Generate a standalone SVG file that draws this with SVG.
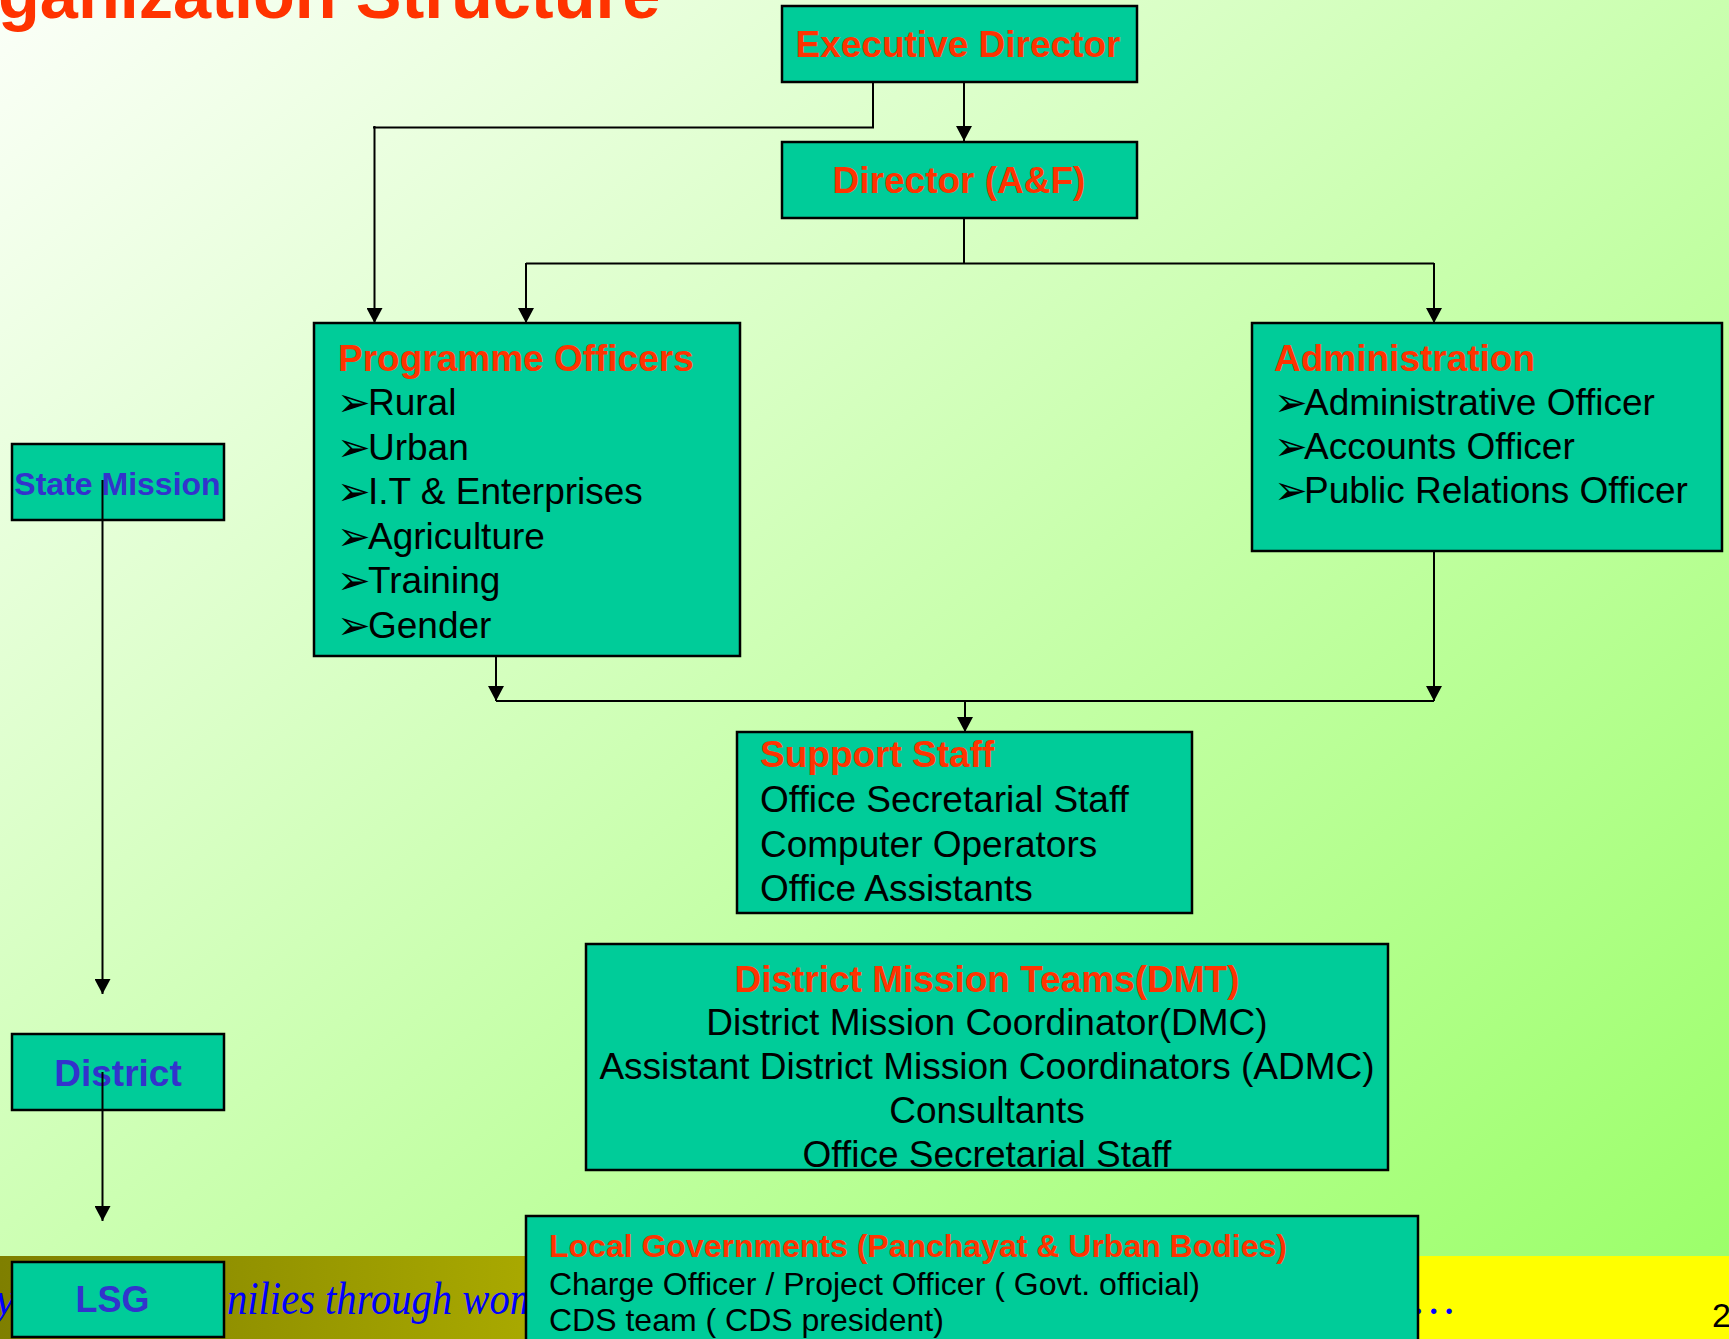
<svg xmlns="http://www.w3.org/2000/svg" width="1729" height="1339" viewBox="0 0 1729 1339">
<defs>
<linearGradient id="bg" x1="0" y1="0" x2="1" y2="1">
<stop offset="0" stop-color="#FBFFF8"/>
<stop offset="1" stop-color="#99FF66"/>
</linearGradient>
<linearGradient id="band" x1="0" y1="0" x2="1" y2="0">
<stop offset="0" stop-color="#7F7F00"/>
<stop offset="0.3" stop-color="#A8A800"/>
<stop offset="0.8" stop-color="#FFFF00"/>
<stop offset="1" stop-color="#FFFF00"/>
</linearGradient>
<marker id="ah" markerUnits="userSpaceOnUse" markerWidth="16" markerHeight="16" refX="15" refY="8" orient="auto" viewBox="0 0 16 16">
<path d="M0,0 L15,8 L0,16 Z" fill="#000"/>
</marker>
</defs>
<style>
.box{fill:#00CC99;stroke:#000;stroke-width:2.5}
.hd{font-family:"Liberation Sans",Arial,sans-serif;font-weight:bold;font-size:37px;fill:#FF3300}
.it{font-family:"Liberation Sans",Arial,sans-serif;font-size:37px;fill:#000}
.sm{font-size:32px}
.bl{font-family:"DejaVu Sans",sans-serif;font-size:40px;fill:#000}
.lv{font-family:"Liberation Sans",Arial,sans-serif;font-weight:bold;fill:#3333CC;text-anchor:middle}
.ln{fill:none;stroke:#000;stroke-width:2}
.mid{text-anchor:middle}
.tag{font-family:"Liberation Serif",serif;font-style:italic;font-size:46px;fill:#0000FF}
</style>
<rect x="0" y="0" width="1729" height="1339" fill="url(#bg)"/>
<rect x="0" y="1256" width="1729" height="83" fill="url(#band)"/>
<text class="tag" x="-5" y="1314">y</text>
<text class="tag" x="227" y="1314" textLength="312" lengthAdjust="spacingAndGlyphs">nilies through wom</text>
<text class="tag" x="1414" y="1314">…</text>
<text x="1712" y="1327" font-family="Liberation Sans,Arial,sans-serif" font-size="34" fill="#000">2</text>
<text x="-2" y="18" font-family="Liberation Sans,Arial,sans-serif" font-weight="bold" font-size="68.5" fill="#FF3300">ganization Structure</text>

<g id="executive-director">
<rect class="box" x="782" y="6" width="355" height="76"/>
<text class="hd mid" x="958" y="56.5">Executive Director</text>
</g>
<g id="director-af">
<rect class="box" x="782" y="142" width="355" height="76"/>
<text class="hd mid" x="959" y="193">Director (A&amp;F)</text>
</g>
<g id="programme-officers">
<rect class="box" x="314" y="323" width="426" height="333"/>
<text class="hd" x="338" y="371">Programme Officers</text>
<text class="bl" x="337" y="416">➢</text><text class="it" x="368" y="415">Rural</text>
<text class="bl" x="337" y="461">➢</text><text class="it" x="368" y="460">Urban</text>
<text class="bl" x="337" y="505">➢</text><text class="it" x="368" y="504">I.T &amp; Enterprises</text>
<text class="bl" x="337" y="550">➢</text><text class="it" x="368" y="549">Agriculture</text>
<text class="bl" x="337" y="594">➢</text><text class="it" x="368" y="593">Training</text>
<text class="bl" x="337" y="639">➢</text><text class="it" x="368" y="638">Gender</text>
</g>
<g id="administration">
<rect class="box" x="1252" y="323" width="470" height="228"/>
<text class="hd" x="1274" y="371">Administration</text>
<text class="bl" x="1274" y="416">➢</text><text class="it" x="1304" y="415">Administrative Officer</text>
<text class="bl" x="1274" y="460">➢</text><text class="it" x="1304" y="459">Accounts Officer</text>
<text class="bl" x="1274" y="504">➢</text><text class="it" x="1304" y="503">Public Relations Officer</text>
</g>
<g id="support-staff">
<rect class="box" x="737" y="732" width="455" height="181"/>
<text class="hd" x="760" y="767">Support Staff</text>
<text class="it" x="760" y="812">Office Secretarial Staff</text>
<text class="it" x="760" y="857">Computer Operators</text>
<text class="it" x="760" y="901">Office Assistants</text>
</g>
<g id="district-mission-teams">
<rect class="box" x="586" y="944" width="802" height="226"/>
<text class="hd mid" x="987" y="992">District Mission Teams(DMT)</text>
<text class="it mid" x="987" y="1035">District Mission Coordinator(DMC)</text>
<text class="it mid" x="987" y="1079">Assistant District Mission Coordinators (ADMC)</text>
<text class="it mid" x="987" y="1123">Consultants</text>
<text class="it mid" x="987" y="1167">Office Secretarial Staff</text>
</g>
<g id="local-governments">
<rect class="box" x="526" y="1216" width="892" height="140"/>
<text class="hd sm" x="549" y="1257">Local Governments (Panchayat &amp; Urban Bodies)</text>
<text class="it sm" x="549" y="1295">Charge Officer / Project Officer ( Govt. official)</text>
<text class="it sm" x="549" y="1331">CDS team ( CDS president)</text>
</g>
<g id="state-mission">
<rect class="box" x="12" y="444" width="212" height="76"/>
<text class="lv" x="117.5" y="495" font-size="32">State Mission</text>
</g>
<g id="district">
<rect class="box" x="12" y="1034" width="212" height="76"/>
<text class="lv" x="118" y="1086" font-size="37">District</text>
</g>
<g id="lsg">
<rect class="box" x="12" y="1262" width="212" height="75"/>
<text class="lv" x="112.5" y="1312" font-size="36">LSG</text>
</g>

<g id="connectors">
<path class="ln" d="M964,82 V141" marker-end="url(#ah)"/>
<path class="ln" d="M873,82 V127.5 H373" stroke-width="2.5"/>
<path class="ln" d="M374.5,126 V323" stroke-width="4.5" marker-end="url(#ah)"/>
<path class="ln" d="M964,218 V263.5"/>
<path class="ln" d="M526,263.5 H1434"/>
<path class="ln" d="M526,263 V323" marker-end="url(#ah)"/>
<path class="ln" d="M1434,263 V323" marker-end="url(#ah)"/>
<path class="ln" d="M496,656 V701" marker-end="url(#ah)"/>
<path class="ln" d="M1434,551 V701" marker-end="url(#ah)"/>
<path class="ln" d="M496,701 H1434"/>
<path class="ln" d="M965,701 V732" marker-end="url(#ah)"/>
<path class="ln" d="M102.5,480 V994" marker-end="url(#ah)"/>
<path class="ln" d="M102.5,1072 V1221" marker-end="url(#ah)"/>
</g>
</svg>
